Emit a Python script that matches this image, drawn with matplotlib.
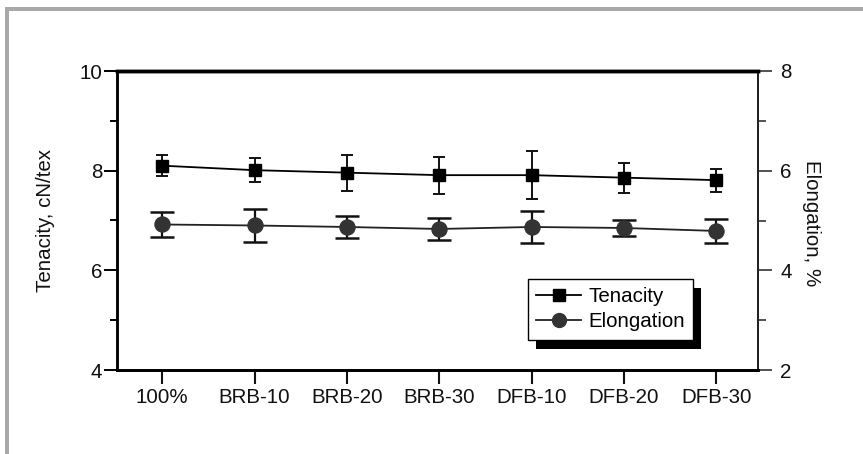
import numpy as np
import matplotlib
matplotlib.use("Agg")
import matplotlib.pyplot as plt
from matplotlib.patches import Rectangle
from matplotlib.lines import Line2D

plt.rcParams['font.family'] = ['Liberation Sans', 'DejaVu Sans']

samples = ['100%', 'BRB-10', 'BRB-20', 'BRB-30', 'DFB-10', 'DFB-20', 'DFB-30']
tenacity = [8.10, 8.01, 7.96, 7.91, 7.91, 7.86, 7.81]
tenacity_err = [0.21, 0.24, 0.36, 0.37, 0.48, 0.30, 0.23]
elongation = [4.92, 4.90, 4.87, 4.83, 4.87, 4.85, 4.79]
elongation_err = [0.26, 0.34, 0.22, 0.23, 0.32, 0.17, 0.25]

W, H = 863, 454
fig = plt.figure(figsize=(W/100, H/100), dpi=100)
ax = fig.add_axes([117/W, 1-370/H, 641/W, 299/H])
ax2 = ax.twinx()

x = np.arange(len(samples))

ax.errorbar(x, tenacity, yerr=tenacity_err, color='black', lw=1.3,
            marker='s', ms=8.8, mfc='black', mec='black',
            ecolor='#111111', elinewidth=1.4, capsize=4.5, capthick=1.4,
            zorder=3)
ax2.errorbar(x, elongation, yerr=elongation_err, color='#222222', lw=1.3,
             marker='o', ms=10.8, mfc='#333333', mec='#333333',
             ecolor='#111111', elinewidth=1.6, capsize=8.3, capthick=1.8,
             zorder=3)

ax.set_xlim(-0.49, 6.45)
ax.set_ylim(4, 10)
ax2.set_ylim(2, 8)
ax.set_xticks(x)
ax.set_xticklabels(samples)
ax.set_yticks([4, 6, 8, 10])
ax.set_yticks([5, 7, 9], minor=True)
ax2.set_yticks([2, 4, 6, 8])
ax2.set_yticks([3, 5, 7], minor=True)

fs = 14.8
ax.tick_params(axis='x', direction='out', length=10, width=1.5, pad=3,
               labelsize=fs, colors='#111111')
ax.tick_params(axis='y', which='major', direction='out', length=9.5, width=1.4,
               pad=1, labelsize=fs, labelcolor='#111111')
ax.tick_params(axis='y', which='minor', direction='out', length=5, width=1.4)
ax2.tick_params(axis='y', which='major', direction='out', length=10, width=1.2,
                pad=6, labelsize=fs, color='#333333', labelcolor='#111111')
ax2.tick_params(axis='y', which='minor', direction='out', length=6, width=1.2,
                color='#333333')

for a in (ax, ax2):
    a.spines['top'].set_linewidth(2.5)
    a.spines['bottom'].set_linewidth(2.0)
    a.spines['left'].set_linewidth(1.8)
    a.spines['right'].set_linewidth(1.4)
    a.spines['right'].set_color('#222222')

ax.set_ylabel('Tenacity, cN/tex', fontsize=fs, color='#111111')
ax.yaxis.set_label_coords(-0.097, 0.5)
ax2.set_ylabel('Elongation, %', fontsize=fs, rotation=-90, va='center',
               color='#111111')
ax2.yaxis.set_label_coords(1.084, 0.49)

handles = [
    Line2D([], [], color='black', lw=1.3, marker='s', ms=8, mfc='black', mec='black'),
    Line2D([], [], color='#222222', lw=1.3, marker='o', ms=10, mfc='#333333',
           mec='#333333'),
]
leg = ax2.legend(handles, ['Tenacity', 'Elongation'], loc='upper left',
                 bbox_to_anchor=(0.641, 0.304),
                 borderaxespad=0, fancybox=False, framealpha=1, edgecolor='black',
                 fontsize=fs, handlelength=2.2, handletextpad=0.35,
                 labelspacing=0.3, borderpad=0.4)
leg.get_frame().set_linewidth(1.0)
leg.set_zorder(10)

# gray frame around the figure
fig.add_artist(Rectangle((5/W, 1-11/H), 1, 3.5/H, transform=fig.transFigure,
                         color='#a9a9a9', lw=0))
fig.add_artist(Rectangle((5/W, 0), 4/W, 1-8/H, transform=fig.transFigure,
                         color='#a9a9a9', lw=0))

# hard black shadow behind the legend (drawn inside ax2, under the legend)
fig.canvas.draw()
bb = leg.get_window_extent()
shadow = Rectangle((bb.x0+8, bb.y0-9), bb.width, bb.height,
                   transform=None, color='black', lw=0, zorder=9, clip_on=False)
ax2.add_artist(shadow)

fig.savefig('out.png', dpi=100)
